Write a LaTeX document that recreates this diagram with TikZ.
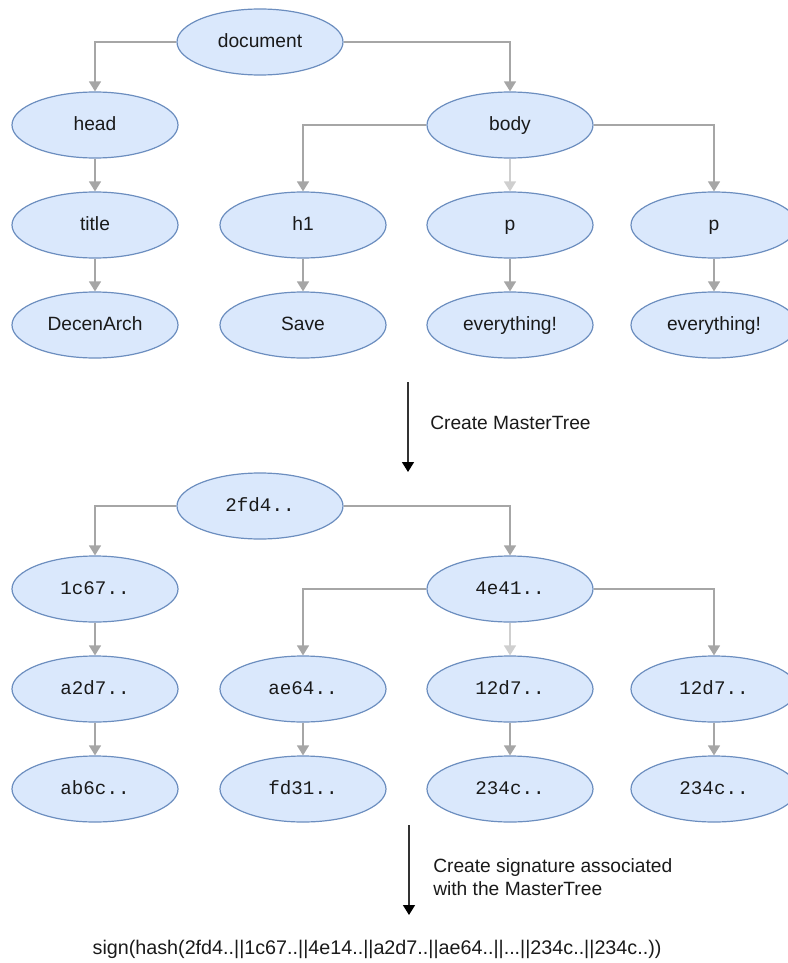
\documentclass[tikz,border=0pt]{standalone}
\usepackage{fontspec}
\setmainfont{Liberation Sans}
\newfontfamily\hashfont{Liberation Mono}
\usetikzlibrary{shapes.geometric,arrows.meta}
\definecolor{nodefill}{HTML}{DAE8FC}
\definecolor{nodeline}{HTML}{6C8EBF}
\definecolor{edgegray}{HTML}{A6A6A6}
\definecolor{edgelight}{HTML}{CFCFCF}
\definecolor{textdark}{HTML}{1A1A1A}
\begin{document}
\begin{tikzpicture}[x=0.75pt,y=-0.75pt,
  treenode/.style={ellipse, draw=nodeline, fill=nodefill, line width=0.9pt,
    minimum width=124.5pt, minimum height=49.5pt, inner sep=0pt,
    text height=0.83em, text depth=0pt,
    text=textdark, font=\fontsize{14.4}{17}\selectfont},
  hashnode/.style={treenode, font=\hashfont\fontsize{14.4}{17}\selectfont},
  link/.style={draw=edgegray, line width=1.1pt,
    -{Triangle[width=9pt,length=7.5pt]}},
  lightlink/.style={link, draw=edgelight},
  stage/.style={draw=black!80, line width=1.1pt,
    -{Triangle[width=9pt,length=7.5pt,color=black]}},
  caption/.style={text=textdark, font=\fontsize{14.4}{17}\selectfont,
    inner sep=0pt, align=left}
]
\useasboundingbox (0,0) rectangle (788,963);

% ---- document tree ----
\node[treenode] (doc)   at (260,42)  {document};
\node[treenode] (head)  at (95,125)  {head};
\node[treenode] (body)  at (510,125) {body};
\node[treenode] (title) at (95,225)  {title};
\node[treenode] (h1)    at (303,225) {h1};
\node[treenode] (pa)    at (510,225) {p};
\node[treenode] (pb)    at (714,225) {p};
\node[treenode] (arch)  at (95,325)  {DecenArch};
\node[treenode] (save)  at (303,325) {Save};
\node[treenode] (eva)   at (510,325) {everything!};
\node[treenode] (evb)   at (714,325) {everything!};

\draw[link] (doc.west) -| (head.north);
\draw[link] (doc.east) -| (body.north);
\draw[link] (body.west) -| (h1.north);
\draw[lightlink] (body.south) -- (pa.north);
\draw[link] (body.east) -| (pb.north);
\draw[link] (head.south) -- (title.north);
\draw[link] (title.south) -- (arch.north);
\draw[link] (h1.south) -- (save.north);
\draw[link] (pa.south) -- (eva.north);
\draw[link] (pb.south) -- (evb.north);

% ---- first transformation ----
\coordinate (s1a) at (408,382);
\coordinate (s1b) at (408,472);
\draw[stage] (s1a) -- (s1b);
\node[caption, anchor=west] (cap1) at (430,423) {Create MasterTree};

% ---- hash tree ----
\node[hashnode] (r)    at (260,506) {2fd4..};
\node[hashnode] (ha)   at (95,589)  {1c67..};
\node[hashnode] (hb)   at (510,589) {4e41..};
\node[hashnode] (ta)   at (95,689)  {a2d7..};
\node[hashnode] (tb)   at (303,689) {ae64..};
\node[hashnode] (tc)   at (510,689) {12d7..};
\node[hashnode] (td)   at (714,689) {12d7..};
\node[hashnode] (la)   at (95,789)  {ab6c..};
\node[hashnode] (lb)   at (303,789) {fd31..};
\node[hashnode] (lc)   at (510,789) {234c..};
\node[hashnode] (ld)   at (714,789) {234c..};

\draw[link] (r.west) -| (ha.north);
\draw[link] (r.east) -| (hb.north);
\draw[link] (hb.west) -| (tb.north);
\draw[lightlink] (hb.south) -- (tc.north);
\draw[link] (hb.east) -| (td.north);
\draw[link] (ha.south) -- (ta.north);
\draw[link] (ta.south) -- (la.north);
\draw[link] (tb.south) -- (lb.north);
\draw[link] (tc.south) -- (lc.north);
\draw[link] (td.south) -- (ld.north);

% ---- signature step ----
\coordinate (s2a) at (409,825);
\coordinate (s2b) at (409,915);
\draw[stage] (s2a) -- (s2b);
\node[caption, anchor=west] (cap2) at (433,877)
  {Create signature associated\\with the MasterTree};
\node[caption, font=\fontsize{14.8}{17}\selectfont] (sig) at (377,949)
  {sign(hash(2fd4..||1c67..||4e14..||a2d7..||ae64..||...||234c..||234c..))};
\end{tikzpicture}
\end{document}
